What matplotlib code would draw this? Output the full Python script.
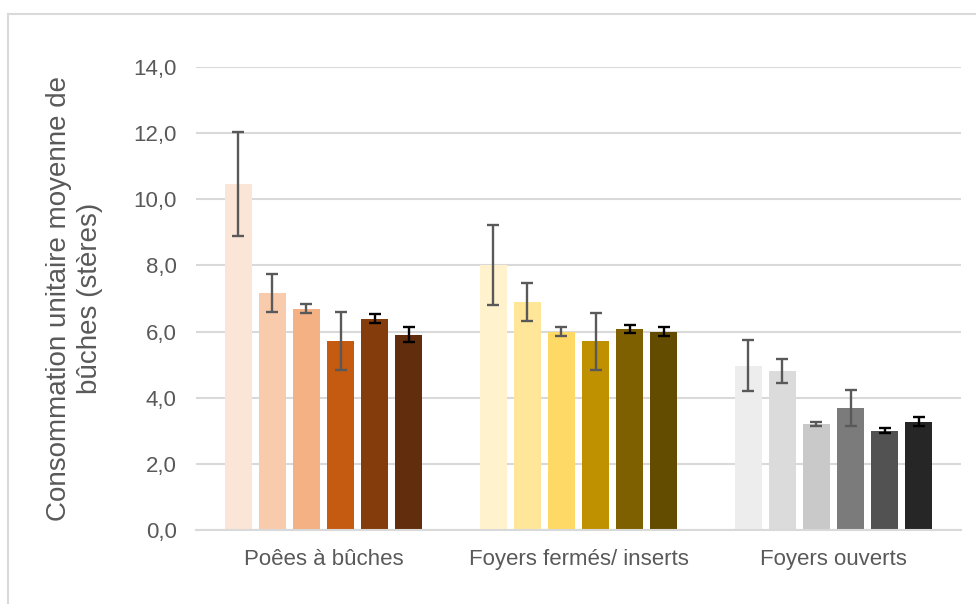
import matplotlib
matplotlib.use("Agg")
import matplotlib.pyplot as plt
from matplotlib.lines import Line2D
import numpy as np

plt.rcParams['font.family'] = ['Liberation Sans', 'DejaVu Sans']

categories = ["Poêes à bûches", "Foyers fermés/ inserts", "Foyers ouverts"]

# mean consumption per bar (6 bars in each category)
values = [
    [10.45, 7.17, 6.69, 5.71, 6.39, 5.90],
    [8.01, 6.90, 6.00, 5.70, 6.08, 6.00],
    [4.97, 4.81, 3.20, 3.68, 3.00, 3.28],
]
# half-width of the error bars
errors = [
    [1.57, 0.58, 0.14, 0.87, 0.14, 0.23],
    [1.20, 0.57, 0.14, 0.86, 0.12, 0.13],
    [0.77, 0.37, 0.07, 0.54, 0.07, 0.13],
]
yticks = [0, 2, 4, 6, 8, 10, 12, 14]
ytick_labels = ["0,0", "2,0", "4,0", "6,0", "8,0", "10,0", "12,0", "14,0"]

palettes = [
    ["#FBE5D6", "#F8CBAD", "#F4B183", "#C55A11", "#843C0C", "#612D0C"],
    ["#FFF2CC", "#FFE699", "#FFD966", "#BF9000", "#7F6000", "#634C00"],
    ["#EDEDED", "#DBDBDB", "#C9C9C9", "#7B7B7B", "#525252", "#262626"],
]
err_colors = ["#595959"] * 4 + ["#000000"] * 2

text_color = "#595959"
grid_color = "#D9D9D9"

fig = plt.figure(figsize=(9.76, 6.04), dpi=100)
ax = fig.add_axes([196 / 976, 1 - 530 / 604, (961 - 196) / 976, (530 - 67) / 604])

pitch = 0.1335
width = 0.104
n = 6
for gi, (vals, errs, cols) in enumerate(zip(values, errors, palettes)):
    xs = gi + (np.arange(n) - (n - 1) / 2) * pitch
    ax.bar(xs, vals, width=width, color=cols, zorder=2)
    for x, v, e, ec in zip(xs, vals, errs, err_colors):
        ax.errorbar(x, v, yerr=e, fmt="none", ecolor=ec, elinewidth=1.7,
                    capsize=4.3, capthick=1.7, zorder=3)

ax.set_xlim(-0.5, 2.5)
ax.set_ylim(0, 14)
ax.set_yticks(yticks)
ax.set_yticklabels(ytick_labels)
ax.set_xticks(range(len(categories)))
ax.set_xticklabels(categories)
ax.yaxis.grid(True, color=grid_color, linewidth=1.5, zorder=0)
ax.set_axisbelow(True)
for s in ["top", "right", "left"]:
    ax.spines[s].set_visible(False)
ax.spines["bottom"].set_color(grid_color)
ax.spines["bottom"].set_linewidth(1.5)
ax.tick_params(axis="both", length=0, colors=text_color, labelsize=16)
ax.tick_params(axis="y", pad=14)
ax.tick_params(axis="x", pad=14)

ax.set_ylabel("Consommation unitaire moyenne de\nbûches (stères)",
              fontsize=20, color=text_color, labelpad=22, linespacing=1.25)

# chart area frame
fig.add_artist(Line2D([8 / 976, 8 / 976], [0, 1 - 14 / 604], color=grid_color, lw=1.5))
fig.add_artist(Line2D([8 / 976, 1], [1 - 14 / 604, 1 - 14 / 604], color=grid_color, lw=1.5))

fig.savefig("out.png", dpi=100)
